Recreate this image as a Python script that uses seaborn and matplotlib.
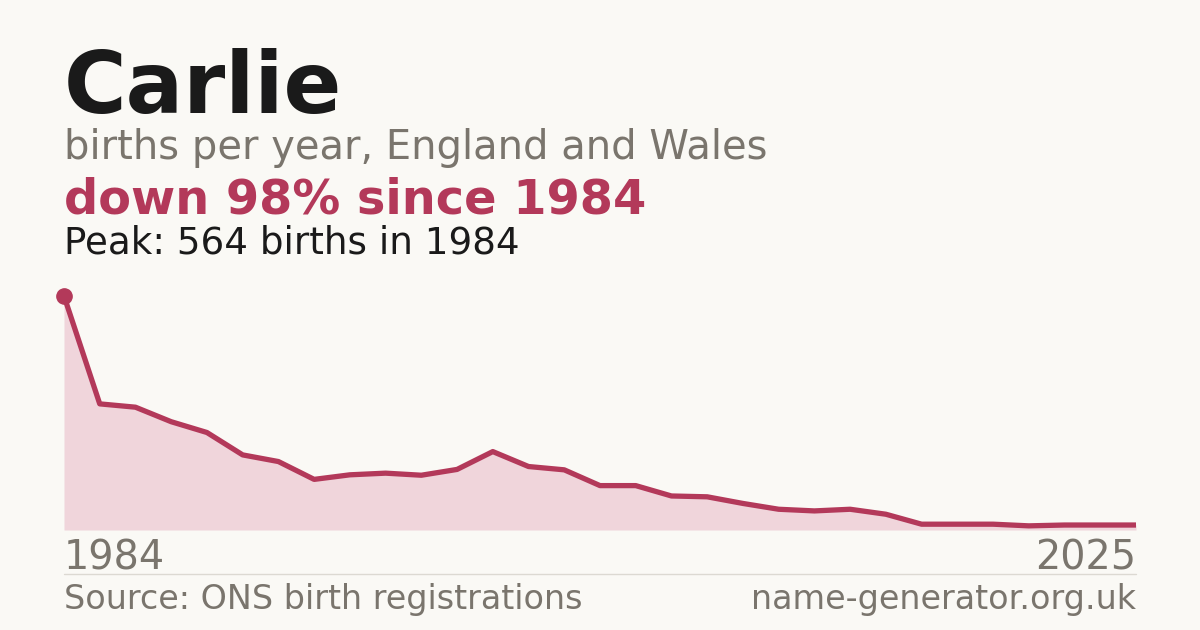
import numpy as np
import pandas as pd
import matplotlib
matplotlib.use("Agg")
import matplotlib.pyplot as plt
import seaborn as sns

# dados (31 pontos, 1984 -> 2025)
point_index = list(range(31))
births = [564, 304, 296, 261, 235, 181, 165, 122, 133, 137, 132, 146, 189, 153, 145,
          107, 107, 82, 80, 64, 50, 46, 50, 38, 14, 14, 14, 10, 12, 12, 12]
first_year = "1984"
last_year = "2025"

name = "Carlie"
subtitle = "births per year, England and Wales"
headline = "down 98% since 1984"
peak_text = "Peak: 564 births in 1984"
source = "Source: ONS birth registrations"
site = "name-generator.org.uk"

bg = "#faf9f5"
red = "#b3395a"
fill = "#f0d5db"
dark = "#1a1a1a"
grey = "#7a756d"

df = pd.DataFrame({"i": point_index, "births": births})

sns.set_style("white")
plt.rcParams["font.family"] = ["DejaVu Sans"]

W, H = 1200, 630
fig = plt.figure(figsize=(12, 6.3), dpi=100, facecolor=bg)

ax = fig.add_axes([64 / W, 1 - 530 / H, 1072 / W, 234 / H])
ax.set_facecolor(bg)
ax.fill_between(df["i"], df["births"], 0, color=fill, lw=0)
sns.lineplot(data=df, x="i", y="births", ax=ax, color=red, lw=3.8)
ax.plot([0], [births[0]], "o", color=red, ms=11, clip_on=False, zorder=5)
ax.set_xlim(0, len(births) - 1)
ax.set_ylim(0, max(births))
ax.axis("off")

# textos
fig.text(64 / W, 1 - 113 / H, name, fontsize=61.5, fontweight="bold", color=dark, va="baseline")
fig.text(64 / W, 1 - 159 / H, subtitle, fontsize=28.8, color=grey, va="baseline")
fig.text(64 / W, 1 - 213 / H, headline, fontsize=34.5, fontweight="bold", color=red, va="baseline")
fig.text(64 / W, 1 - 254 / H, peak_text, fontsize=26.8, color=dark, va="baseline")

fig.text(64 / W, 1 - 570 / H, first_year, fontsize=28.6, color=grey, va="baseline")
fig.text(1136 / W, 1 - 570 / H, last_year, fontsize=28.6, color=grey, va="baseline", ha="right")

fig.add_artist(plt.Line2D([64 / W, 1136 / W], [1 - 574 / H, 1 - 574 / H], color="#dcd9d2", lw=1))

fig.text(64 / W, 1 - 609 / H, source, fontsize=24, color=grey, va="baseline")
fig.text(1136 / W, 1 - 609 / H, site, fontsize=24, color=grey, va="baseline", ha="right")

fig.savefig("out.png", dpi=100, facecolor=bg)
